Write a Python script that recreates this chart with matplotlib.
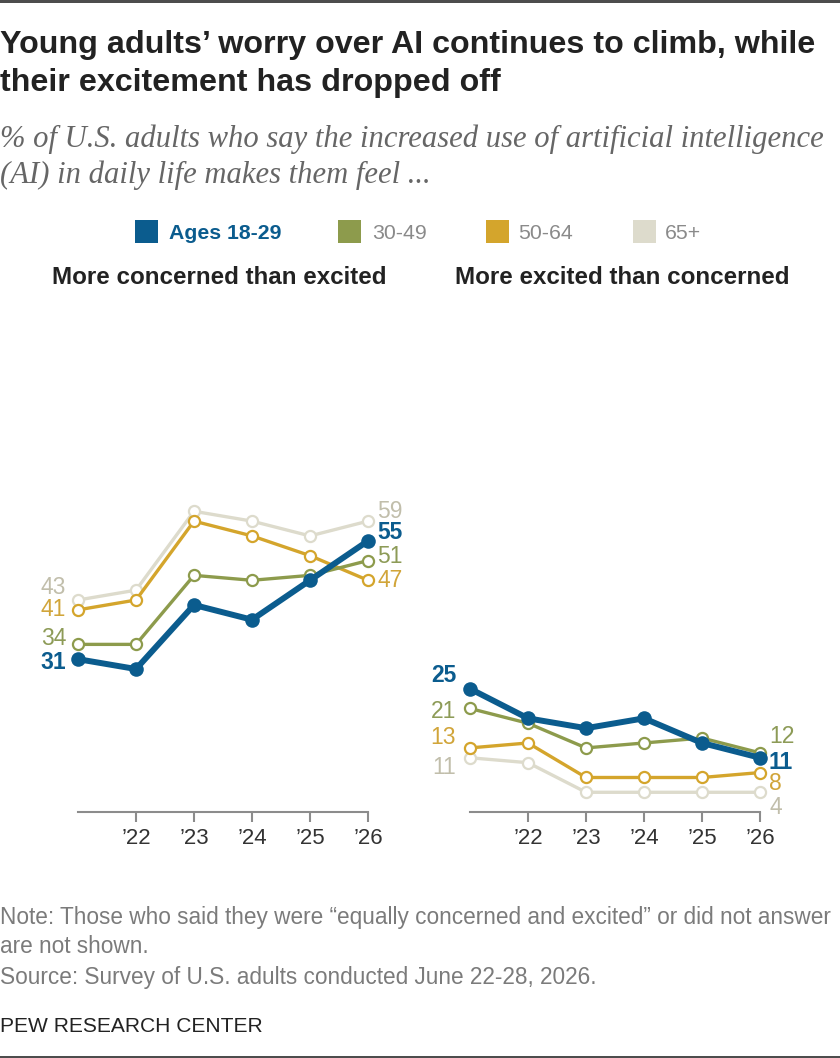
"""Pew-style chart: young adults' worry vs excitement about AI, by age group."""
import matplotlib

matplotlib.use("Agg")
import matplotlib.pyplot as plt
from matplotlib.patches import Rectangle

W, H = 840, 1058

# --- data ---
year_labels = ["’21", "’22", "’23", "’24", "’25", "’26"]
groups = ["Ages 18-29", "30-49", "50-64", "65+"]

concerned_18_29 = [31, 29, 42, 39, 47, 55]
concerned_30_49 = [34, 34, 48, 47, 48, 51]
concerned_50_64 = [41, 43, 59, 56, 52, 47]
concerned_65 = [43, 45, 61, 59, 56, 59]

excited_18_29 = [25, 19, 17, 19, 14, 11]
excited_30_49 = [21, 18, 13, 14, 15, 12]
excited_50_64 = [13, 14, 7, 7, 7, 8]
excited_65 = [11, 10, 4, 4, 4, 4]

# --- styling ---
line_colors = ["#0b5c8e", "#8d9b4c", "#d4a52c", "#dddbcc"]
label_colors = ["#0b5c8e", "#8d9b57", "#d1a53a", "#c1beab"]
gray_text = "#7b7b7b"

# vertical nudges (px, up is positive) so that end labels do not collide
left_start_nudge = [-3, 6, 0, 13]
left_end_nudge = [8, 4, 0, 10]
right_start_nudge = [13, -3, 10, -10]
right_end_nudge = [-5, 16, -11, -15]

plt.rcParams["font.family"] = "Liberation Sans"

fig = plt.figure(figsize=(W / 100, H / 100), dpi=100)
renderer = fig.canvas.get_renderer()


def fx(x):
    return x / W


def fy(y):
    return 1 - y / H


def put(x, y, s, width=None, **kw):
    """Place text at a pixel position (baseline); optionally fit it to a width."""
    t = fig.text(fx(x), fy(y), s, va="baseline", **kw)
    if width is not None:
        w = t.get_window_extent(renderer).width
        t.set_fontsize(t.get_fontsize() * width / w)
    return t


# top and bottom rules
fig.add_artist(Rectangle((0, fy(2.5)), 1, 2.5 / H, transform=fig.transFigure,
                         color="#4d4d4d", lw=0))
fig.add_artist(Rectangle((0, 0), 1, 2.5 / H, transform=fig.transFigure,
                         color="#4d4d4d", lw=0))

# title and subtitle
t1 = put(0, 53, "Young adults’ worry over AI continues to climb, while", width=815,
         fontsize=22, fontweight="bold", color="#222222")
put(0, 91, "their excitement has dropped off", fontsize=t1.get_fontsize(),
    fontweight="bold", color="#222222")
s1 = put(0, 147, "% of U.S. adults who say the increased use of artificial intelligence",
         width=826, fontsize=20, family="Liberation Serif", style="italic",
         color="#666666")
put(0, 183, "(AI) in daily life makes them feel ...", fontsize=s1.get_fontsize(),
    family="Liberation Serif", style="italic", color="#666666")

# legend
legend_square_x = [135, 338, 486, 633]
legend_text_x = [169, 372, 518, 665]
for i, g in enumerate(groups):
    fig.add_artist(Rectangle((fx(legend_square_x[i]), fy(243)), 23 / W, 23 / H,
                             transform=fig.transFigure, color=line_colors[i], lw=0))
    put(legend_text_x[i], 239, g, fontsize=15.3,
        fontweight="bold" if i == 0 else "normal",
        color=line_colors[0] if i == 0 else "#8a8a8a")

# panel titles
p1 = put(52, 284, "More concerned than excited", width=334, fontsize=17,
         fontweight="bold", color="#222222")
put(455, 284, "More excited than concerned", fontsize=p1.get_fontsize(),
    fontweight="bold", color="#222222")


def panel(x0, x1, series, start_nudge, end_nudge, start_gap):
    y_top, y_bottom = 812 - 64 * 4.93, 812
    ax = fig.add_axes([fx(x0), fy(y_bottom), (x1 - x0) / W, (y_bottom - y_top) / H])
    ax.set_xlim(0, len(year_labels) - 1)
    ax.set_ylim(0, 64)
    for side in ["top", "left", "right"]:
        ax.spines[side].set_visible(False)
    ax.spines["bottom"].set_color("#8c8c8c")
    ax.spines["bottom"].set_linewidth(1.5)
    ax.set_yticks([])
    ax.set_xticks(range(1, len(year_labels)))
    ax.set_xticklabels(year_labels[1:])
    ax.tick_params(axis="x", length=7.2, width=1.5, color="#8c8c8c", pad=4,
                   labelsize=16, labelcolor="#333333")
    ax.patch.set_alpha(0)

    xs = range(len(year_labels))
    # draw oldest group first so young adults sit on top
    for i in reversed(range(len(series))):
        vals = series[i]
        if i == 0:
            ax.plot(xs, vals, color=line_colors[i], lw=4.3, marker="o", ms=10.5,
                    mew=0, solid_capstyle="round", clip_on=False, zorder=10)
        else:
            ax.plot(xs, vals, color=line_colors[i], lw=2.4, marker="o", ms=8,
                    mfc="white", mec=line_colors[i], mew=1.6, clip_on=False,
                    zorder=5 - i)
        weight = "bold" if i == 0 else "normal"
        ax.annotate(str(vals[0]), xy=(0, vals[0]), xytext=(-start_gap, start_nudge[i]),
                    textcoords="offset pixels", ha="right", va="center",
                    fontsize=16.5, fontweight=weight, color=label_colors[i],
                    annotation_clip=False)
        ax.annotate(str(vals[-1]), xy=(len(vals) - 1, vals[-1]),
                    xytext=(9, end_nudge[i]), textcoords="offset pixels",
                    ha="left", va="center", fontsize=16.5, fontweight=weight,
                    color=label_colors[i], annotation_clip=False)
    return ax


panel(78, 368, [concerned_18_29, concerned_30_49, concerned_50_64, concerned_65],
      left_start_nudge, left_end_nudge, 12)
panel(470, 760, [excited_18_29, excited_30_49, excited_50_64, excited_65],
      right_start_nudge, right_end_nudge, 14)

# notes
n1 = put(0, 924, "Note: Those who said they were “equally concerned and excited” "
         "or did not answer", width=833, fontsize=15, color=gray_text)
put(0, 953, "are not shown.", fontsize=n1.get_fontsize(), color=gray_text)
put(0, 984, "Source: Survey of U.S. adults conducted June 22-28, 2026.",
    fontsize=n1.get_fontsize(), color=gray_text)
put(0, 1032, "PEW RESEARCH CENTER", width=263, fontsize=15, color="#222222")

fig.savefig("out.png", dpi=100)
